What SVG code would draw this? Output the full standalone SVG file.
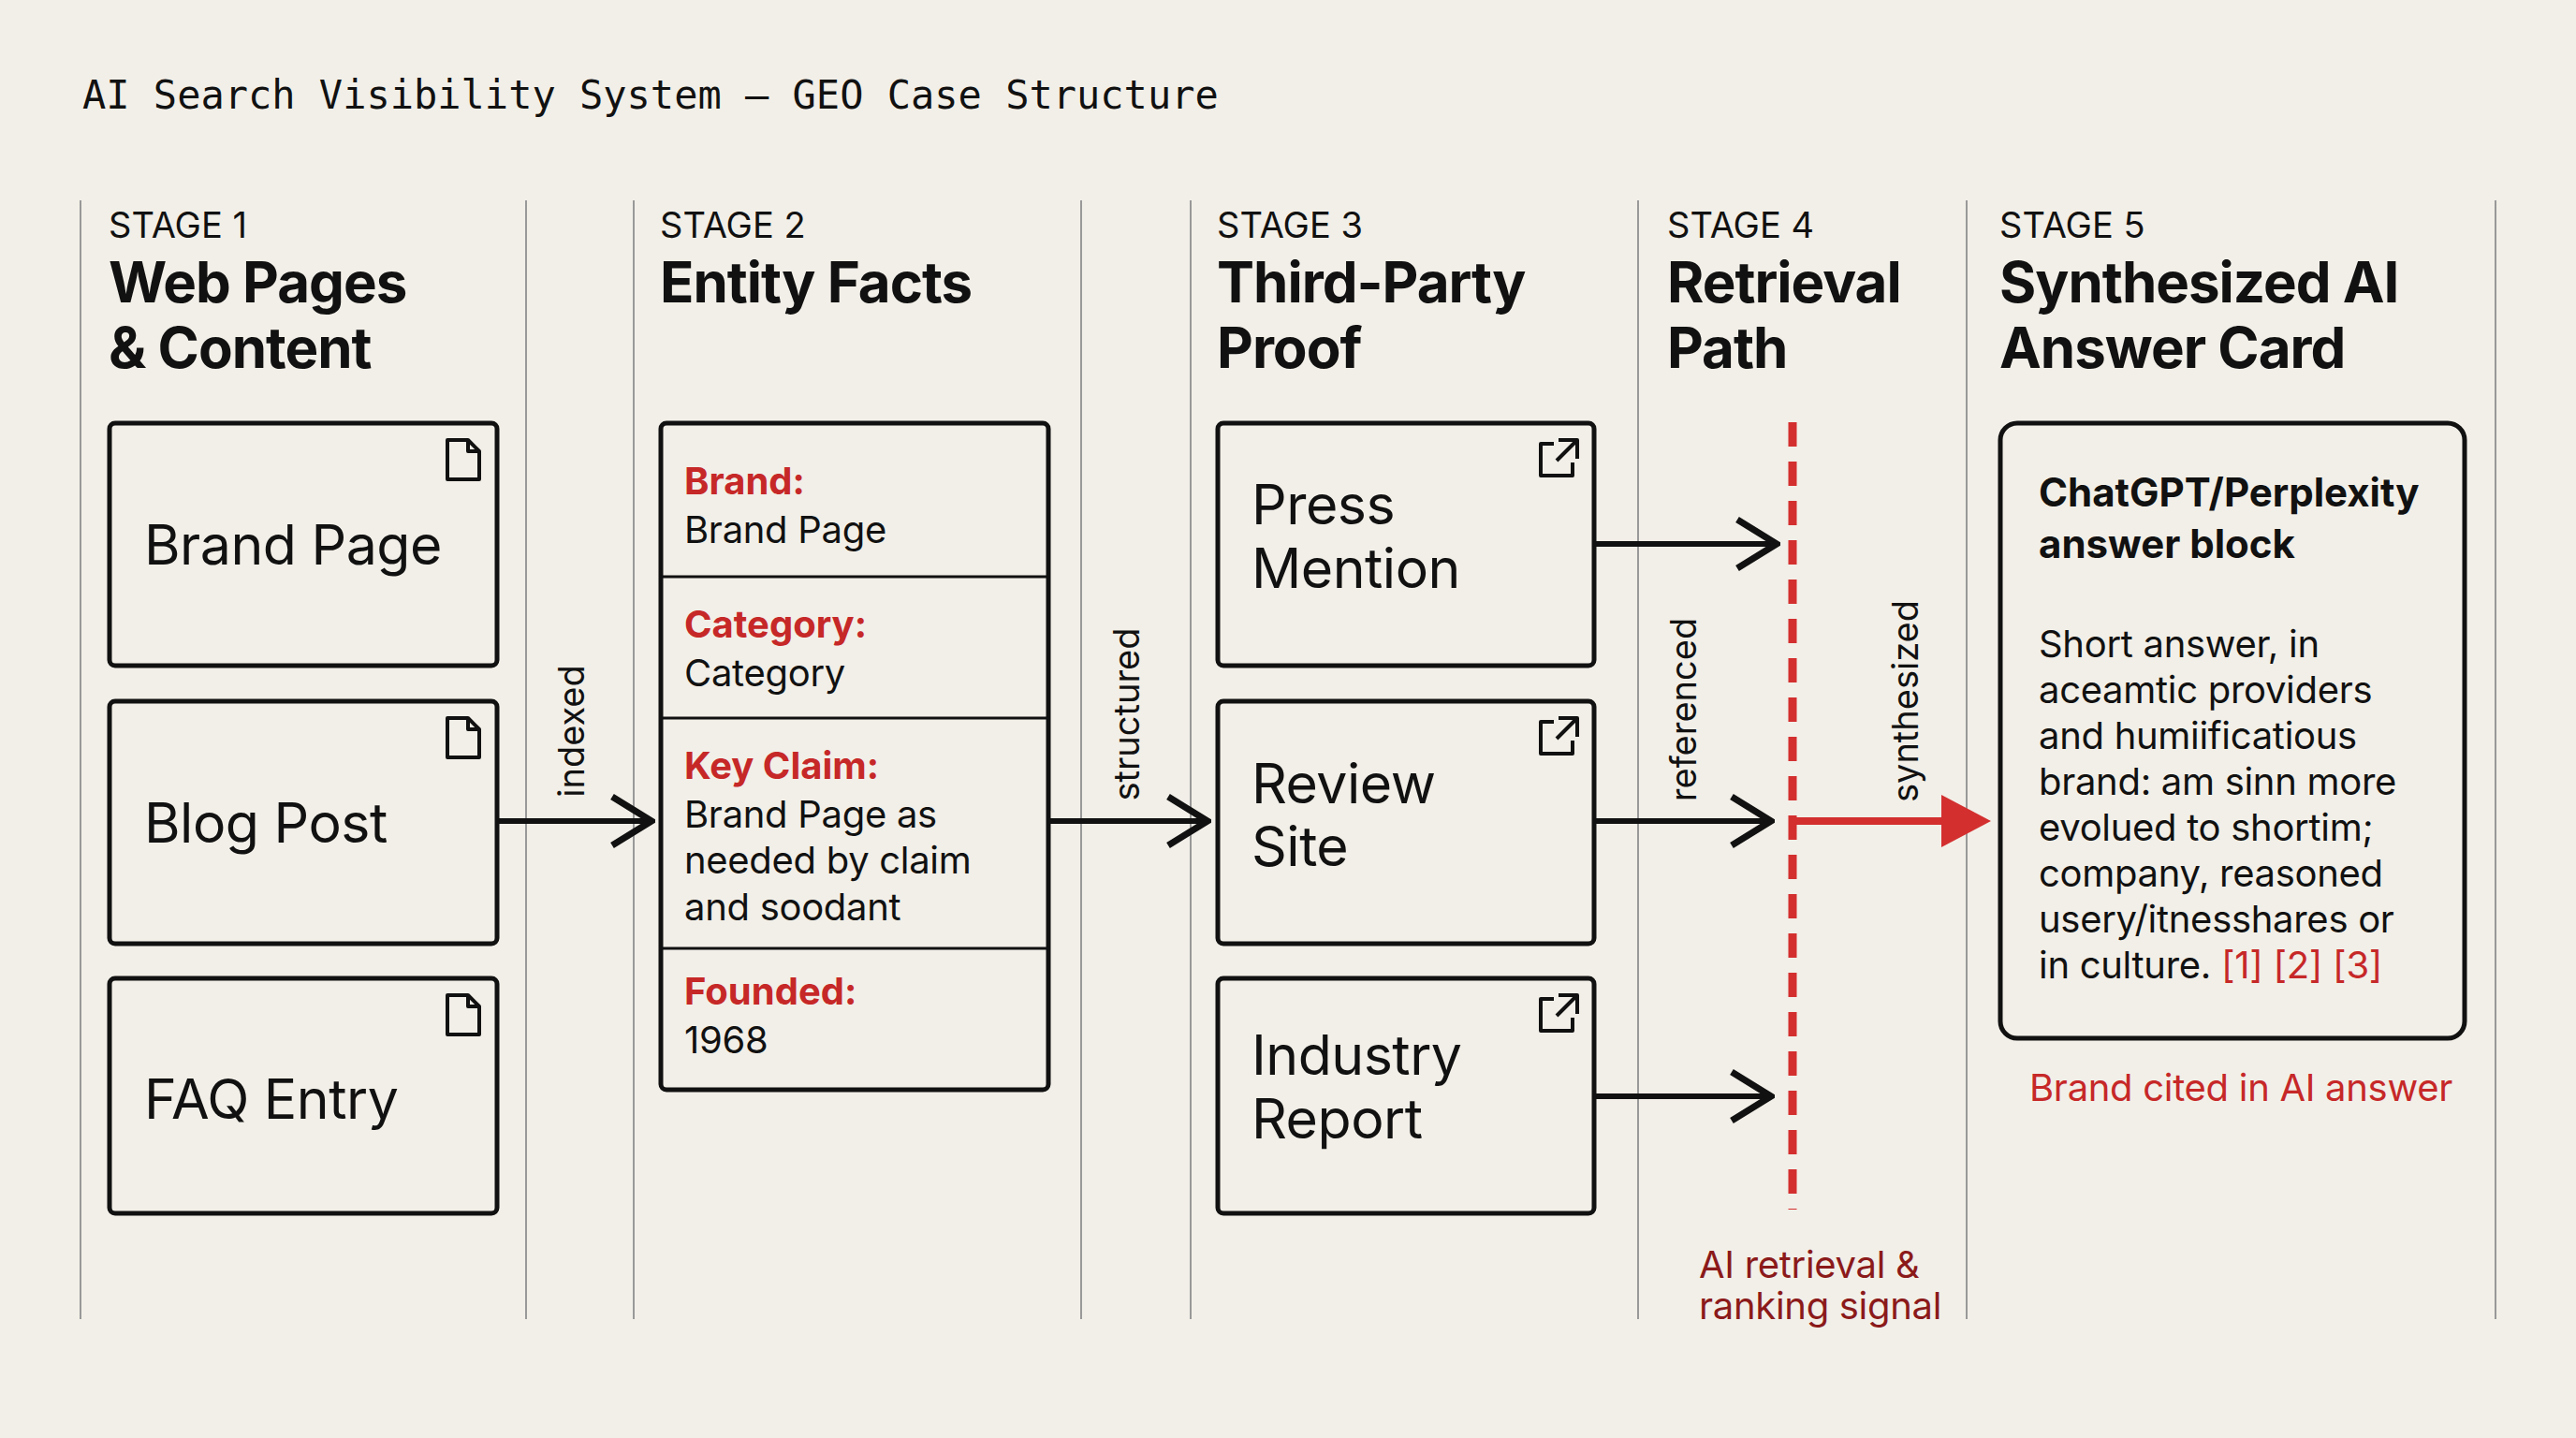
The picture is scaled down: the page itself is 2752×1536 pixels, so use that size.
<svg xmlns="http://www.w3.org/2000/svg" width="2752" height="1536" viewBox="0 0 2752 1536">
<defs>
<style>
.t{font-family:Inter,"Liberation Sans",sans-serif;fill:#111}
.title{font-family:"DejaVu Sans Mono","Liberation Mono",monospace;font-size:42px;fill:#111}
.stg{font-size:38px}
.hd{font-size:60px;font-weight:700;letter-spacing:-1px}
.box{fill:none;stroke:#111;stroke-width:5}
.big{font-size:59px;letter-spacing:-0.5px}
.lab{font-size:40px;font-weight:700;fill:#c62828}
.val{font-size:40px;letter-spacing:-0.3px}
.col{stroke:#999;stroke-width:2}
.rot{font-size:38px}
.body{font-size:40px;letter-spacing:-0.3px}
.red{fill:#c62828}
.ico{fill:none;stroke:#111;stroke-width:4;stroke-linejoin:round}
</style>
<marker id="ah" viewBox="0 0 50 60" refX="46" refY="30" markerWidth="50" markerHeight="60" markerUnits="userSpaceOnUse" orient="auto"><path d="M4 4 L46 30 L4 56" fill="none" stroke="#111" stroke-width="7"/></marker>
</defs>
<rect width="2752" height="1536" fill="#f2efe8"/>
<text class="title" x="88" y="116">AI Search Visibility System — GEO Case Structure</text>
<g id="columns">
<line class="col" x1="86" y1="214" x2="86" y2="1409"/>
<line class="col" x1="562" y1="214" x2="562" y2="1409"/>
<line class="col" x1="677" y1="214" x2="677" y2="1409"/>
<line class="col" x1="1155" y1="214" x2="1155" y2="1409"/>
<line class="col" x1="1272" y1="214" x2="1272" y2="1409"/>
<line class="col" x1="1750" y1="214" x2="1750" y2="1409"/>
<line class="col" x1="2101" y1="214" x2="2101" y2="1409"/>
<line class="col" x1="2666" y1="214" x2="2666" y2="1409"/>
</g>
<g id="headers" class="t">
<text class="t stg" x="116" y="254">STAGE 1</text>
<text class="t hd" x="116" y="323">Web Pages</text>
<text class="t hd" x="116" y="393">&amp; Content</text>
<text class="t stg" x="705" y="254">STAGE 2</text>
<text class="t hd" x="705" y="323">Entity Facts</text>
<text class="t stg" x="1300" y="254">STAGE 3</text>
<text class="t hd" x="1300" y="323">Third-Party</text>
<text class="t hd" x="1300" y="393">Proof</text>
<text class="t stg" x="1781" y="254">STAGE 4</text>
<text class="t hd" x="1781" y="323">Retrieval</text>
<text class="t hd" x="1781" y="393">Path</text>
<text class="t stg" x="2136" y="254">STAGE 5</text>
<text class="t hd" x="2136" y="323">Synthesized AI</text>
<text class="t hd" x="2136" y="393">Answer Card</text>
</g>
<g id="brand-page">
<rect class="box" x="117" y="452" width="414" height="259" rx="6"/>
<path class="ico" d="M478 470 h22 l12 12 v30 h-34 z M500 470 v12 h12"/>
<text class="t big" x="154" y="603">Brand Page</text>
</g>
<g id="blog-post">
<rect class="box" x="117" y="749" width="414" height="259" rx="6"/>
<path class="ico" d="M478 767 h22 l12 12 v30 h-34 z M500 767 v12 h12"/>
<text class="t big" x="154" y="900">Blog Post</text>
</g>
<g id="faq-entry">
<rect class="box" x="117" y="1045" width="414" height="251" rx="6"/>
<path class="ico" d="M478 1063 h22 l12 12 v30 h-34 z M500 1063 v12 h12"/>
<text class="t big" x="154" y="1195">FAQ Entry</text>
</g>
<g id="entity-facts">
<rect class="box" x="706" y="452" width="414" height="712" rx="6"/>
<line x1="706" y1="616" x2="1120" y2="616" stroke="#111" stroke-width="3"/>
<line x1="706" y1="767" x2="1120" y2="767" stroke="#111" stroke-width="3"/>
<line x1="706" y1="1013" x2="1120" y2="1013" stroke="#111" stroke-width="3"/>
<text class="t lab" x="731" y="528">Brand:</text>
<text class="t val" x="731" y="580">Brand Page</text>
<text class="t lab" x="731" y="681">Category:</text>
<text class="t val" x="731" y="733">Category</text>
<text class="t lab" x="731" y="832">Key Claim:</text>
<text class="t val" x="731" y="884">Brand Page as</text>
<text class="t val" x="731" y="933">needed by claim</text>
<text class="t val" x="731" y="983">and soodant</text>
<text class="t lab" x="731" y="1073">Founded:</text>
<text class="t val" x="731" y="1125">1968</text>
</g>
<g id="press-mention">
<rect class="box" x="1301" y="452" width="402" height="259" rx="6"/>
<path class="ico" d="M1660 474 h-14 v34 h34 v-14 M1665 470 h20 v20 M1685 470 l-22 22"/>
<text class="t big" x="1337" y="560">Press</text>
<text class="t big" x="1337" y="628">Mention</text>
</g>
<g id="review-site">
<rect class="box" x="1301" y="749" width="402" height="259" rx="6"/>
<path class="ico" d="M1660 771 h-14 v34 h34 v-14 M1665 767 h20 v20 M1685 767 l-22 22"/>
<text class="t big" x="1337" y="858">Review</text>
<text class="t big" x="1337" y="925">Site</text>
</g>
<g id="industry-report">
<rect class="box" x="1301" y="1045" width="402" height="251" rx="6"/>
<path class="ico" d="M1660 1067 h-14 v34 h34 v-14 M1665 1063 h20 v20 M1685 1063 l-22 22"/>
<text class="t big" x="1337" y="1148">Industry</text>
<text class="t big" x="1337" y="1216">Report</text>
</g>
<g id="retrieval-path">
<line x1="1915" y1="451" x2="1915" y2="1292" stroke="#d32f2f" stroke-width="9" stroke-dasharray="26 16"/>
<text class="t rot" transform="translate(1812 758) rotate(-90)" text-anchor="middle">referenced</text>
<text class="t rot" transform="translate(2049 749) rotate(-90)" text-anchor="middle">synthesized</text>
<text class="t val" x="1815" y="1365" style="fill:#8b1a1a">AI retrieval &amp;</text>
<text class="t val" x="1815" y="1409" style="fill:#8b1a1a">ranking signal</text>
</g>
<g id="answer-card">
<rect class="box" x="2137" y="452" width="496" height="657" rx="18"/>
<text class="t" x="2178" y="541" font-size="42" font-weight="700">ChatGPT/Perplexity</text>
<text class="t" x="2178" y="596" font-size="42" font-weight="700">answer block</text>
<text class="t body" x="2178" y="702">Short answer, in</text>
<text class="t body" x="2178" y="751">aceamtic providers</text>
<text class="t body" x="2178" y="800">and humiificatious</text>
<text class="t body" x="2178" y="849">brand: am sinn more</text>
<text class="t body" x="2178" y="898">evolued to shortim;</text>
<text class="t body" x="2178" y="947">company, reasoned</text>
<text class="t body" x="2178" y="996">usery/itnesshares or</text>
<text class="t body" x="2178" y="1045">in culture. <tspan class="red">[1] [2] [3]</tspan></text>
<text class="t body red" x="2168" y="1176">Brand cited in AI answer</text>
</g>
<g id="connectors" stroke="#111" stroke-width="6" fill="none">
<line x1="532" y1="877" x2="696" y2="877" marker-end="url(#ah)"/>
<line x1="1121" y1="877" x2="1290" y2="877" marker-end="url(#ah)"/>
<line x1="1704" y1="581" x2="1898" y2="581" marker-end="url(#ah)"/>
<line x1="1704" y1="877" x2="1892" y2="877" marker-end="url(#ah)"/>
<line x1="1704" y1="1171" x2="1892" y2="1171" marker-end="url(#ah)"/>
<line x1="1915" y1="877" x2="2080" y2="877" stroke="#d32f2f" stroke-width="8"/>
<path d="M2074 849 L2127 877 L2074 905 Z" fill="#d32f2f" stroke="none"/>
<text class="t rot" stroke="none" transform="translate(624 781) rotate(-90)" text-anchor="middle">indexed</text>
<text class="t rot" stroke="none" transform="translate(1217 763) rotate(-90)" text-anchor="middle">structured</text>
</g>
</svg>
